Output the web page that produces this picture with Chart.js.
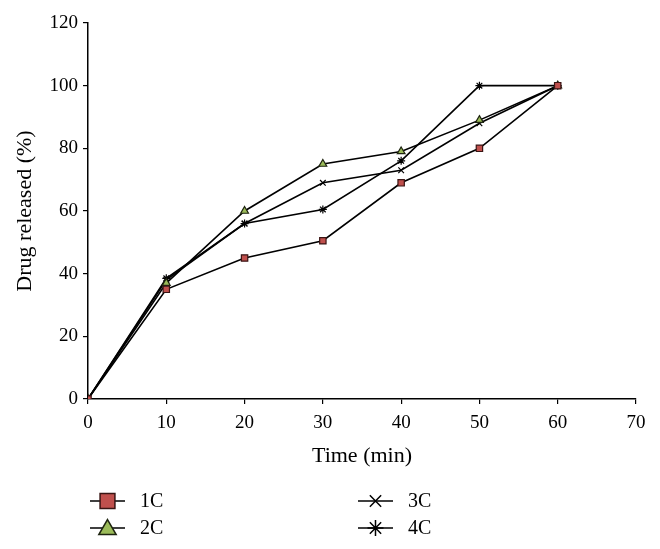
<!DOCTYPE html>
<html>
<head>
<meta charset="utf-8">
<script src="https://cdn.jsdelivr.net/npm/chart.js@4"></script>
<style>
  html, body { margin: 0; padding: 0; background: #fff; }
  #wrap { width: 660px; height: 549px; }
</style>
</head>
<body>
<div id="wrap"><canvas id="myChart" width="660" height="549"></canvas></div>
<script>
// data
const times = [0, 10, 20, 30, 40, 50, 60]
const series1C = [0, 35, 45, 50.5, 69, 80, 100]
const series2C = [0, 37, 60, 75, 79, 89, 100]
const series3C = [0, 38, 56, 69, 73, 88, 100]
const series4C = [0, 38.5, 56, 60.5, 76, 100, 100]
const seriesNames = ['1C', '2C', '3C', '4C']
const xTicks = [0, 10, 20, 30, 40, 50, 60, 70]
const yTicks = [0, 20, 40, 60, 80, 100, 120]

const serif = "'Liberation Serif', 'DejaVu Serif', serif"

function pts(vals) {
    return vals.map((v, i) => ({ x: times[i], y: v }))
}

const styles = [
    { pointStyle: 'rect', bg: '#c0504d', border: '#3a1514', r: 4.5, lr: 10.5 },
    { pointStyle: 'triangle', bg: '#9bbb59', border: '#1e2410', r: 4.5, lr: 10 },
    { pointStyle: 'crossRot', bg: '#000', border: '#000', r: 4, lr: 8 },
    { pointStyle: 'star', bg: '#000', border: '#000', r: 4, lr: 8 }
]
const allSeries = [series1C, series2C, series3C, series4C]

const datasets = allSeries.map((s, i) => ({
    label: seriesNames[i],
    data: pts(s),
    borderColor: '#000',
    borderWidth: 1.6,
    pointStyle: styles[i].pointStyle,
    pointRadius: styles[i].r,
    pointBackgroundColor: styles[i].bg,
    pointBorderColor: styles[i].border,
    pointBorderWidth: 1.2,
    fill: false,
    tension: 0
}))

// legend in two columns under the plot
const gridLegend = {
    id: 'gridLegend',
    afterDraw(chart) {
        const c = chart.ctx
        const cols = [90, 358]
        const rows = [501, 528]
        chart.data.datasets.forEach((ds, i) => {
            const x = cols[Math.floor(i / 2)]
            const y = rows[i % 2]
            c.save()
            c.strokeStyle = '#000'
            c.lineWidth = 1.5
            c.beginPath()
            c.moveTo(x, y)
            c.lineTo(x + 35, y)
            c.stroke()
            c.fillStyle = ds.pointBackgroundColor
            c.strokeStyle = ds.pointBorderColor
            c.lineWidth = 1.5
            Chart.helpers.drawPoint(c, { pointStyle: ds.pointStyle, radius: styles[i].lr, borderWidth: 1.5 }, x + 17.5, y + (i === 1 ? 1.5 : 0))
            c.fillStyle = '#000'
            c.font = '20px ' + serif
            c.textBaseline = 'middle'
            c.textAlign = 'left'
            c.fillText(ds.label, x + 50, y + 1)
            c.restore()
        })
    }
}

const ctx = document.getElementById('myChart').getContext('2d')
const chart = new Chart(ctx, {
    type: 'line',
    data: { datasets: datasets },
    plugins: [gridLegend],
    options: {
        responsive: false,
        animation: false,
        layout: { padding: { top: 23, right: 24, bottom: 80, left: 0 } },
        plugins: {
            legend: { display: false },
            tooltip: { enabled: false }
        },
        scales: {
            x: {
                type: 'linear',
                min: 0,
                max: 70,
                afterBuildTicks: (s) => { s.ticks = xTicks.map(v => ({ value: v })) },
                afterFit: (s) => { s.height = 70 },
                grid: { drawOnChartArea: false, drawTicks: true, tickLength: 5, color: '#000', lineWidth: 1.2 },
                border: { color: '#000', width: 1.5 },
                ticks: { color: '#000', padding: 8, font: { family: serif, size: 19 } },
                title: { display: true, text: 'Time (min)', color: '#000', padding: { top: 4, bottom: 0 }, font: { family: serif, size: 22 } }
            },
            y: {
                min: 0,
                max: 120,
                afterBuildTicks: (s) => { s.ticks = yTicks.map(v => ({ value: v })) },
                afterFit: (s) => { s.width = 88 },
                grid: { drawOnChartArea: false, drawTicks: true, tickLength: 5, color: '#000', lineWidth: 1.2 },
                border: { color: '#000', width: 1.5 },
                ticks: { color: '#000', padding: 5, font: { family: serif, size: 19 } },
                title: { display: true, text: 'Drug released (%)', color: '#000', padding: { top: 12, bottom: 0 }, font: { family: serif, size: 22 } }
            }
        }
    }
})
</script>
</body>
</html>
